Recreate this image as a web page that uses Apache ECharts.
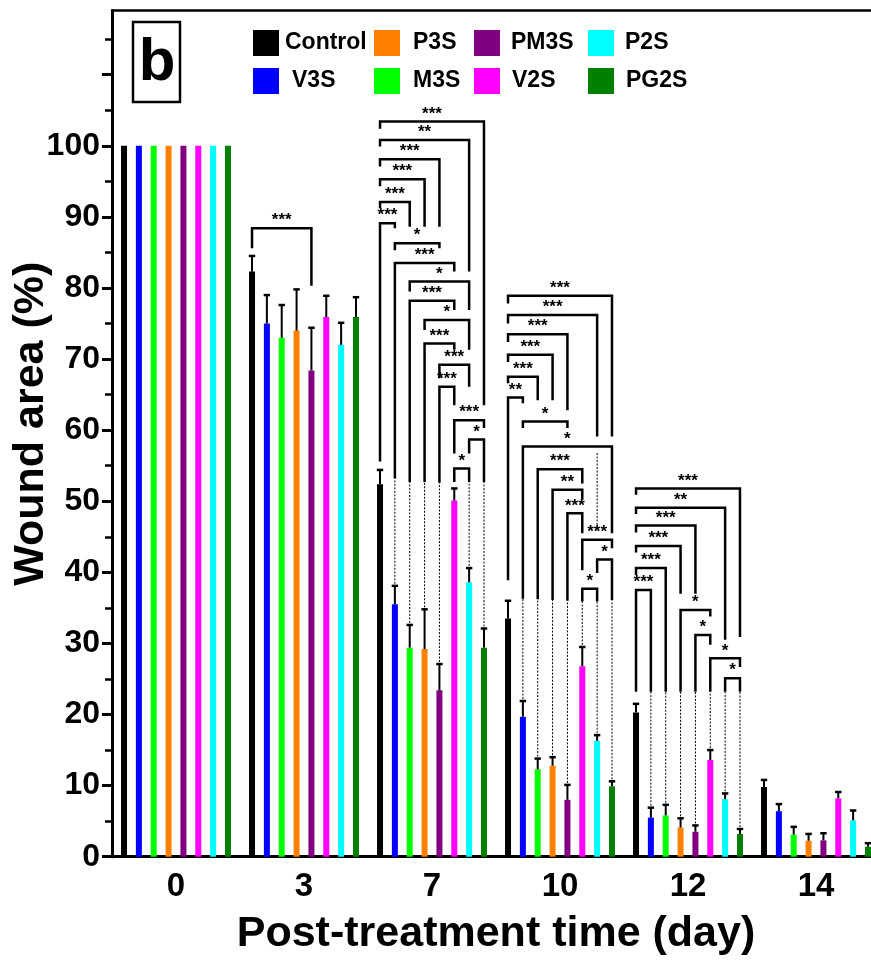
<!DOCTYPE html>
<html><head><meta charset="utf-8">
<script src="https://cdn.jsdelivr.net/npm/echarts@6/dist/echarts.min.js"></script>
<style>html,body{margin:0;padding:0;background:#fff}#c{width:871px;height:960px}</style>
</head><body><div id="c"></div>
<script>
// ---------- data ----------
const categories = ['0', '3', '7', '10', '12', '14'];
const seriesNames = ['Control', 'V3S', 'M3S', 'P3S', 'PM3S', 'V2S', 'P2S', 'PG2S'];
const seriesColors = ['#000000', '#0000FF', '#00FF00', '#FF8000', '#800080', '#FF00FF', '#00FFFF', '#008000'];

const controlMean = [100, 82.3, 52.4, 33.5, 20.3, 9.8];
const controlErr  = [0, 2.2, 2.0, 2.5, 1.2, 1.0];
const v3sMean     = [100, 75.0, 35.5, 19.7, 5.5, 6.4];
const v3sErr      = [0, 4.0, 2.6, 2.2, 1.4, 1.0];
const m3sMean     = [100, 73.0, 29.4, 12.3, 5.8, 3.1];
const m3sErr      = [0, 4.6, 3.2, 1.5, 1.5, 1.1];
const p3sMean     = [100, 74.0, 29.2, 12.8, 4.1, 2.25];
const p3sErr      = [0, 5.8, 5.6, 1.2, 1.3, 0.95];
const pm3sMean    = [100, 68.4, 23.4, 8.0, 3.5, 2.3];
const pm3sErr     = [0, 6.0, 3.7, 2.1, 0.9, 1.0];
const v2sMean     = [100, 75.9, 50.1, 26.8, 13.6, 8.2];
const v2sErr      = [0, 3.0, 1.7, 2.7, 1.4, 0.9];
const p2sMean     = [100, 72.0, 38.6, 16.3, 8.1, 5.1];
const p2sErr      = [0, 3.1, 2.0, 0.8, 0.8, 1.4];
const pg2sMean    = [100, 75.9, 29.4, 9.9, 3.2, 1.4];
const pg2sErr     = [0, 2.8, 2.7, 0.7, 0.7, 0.5];

const seriesMeans = [controlMean, v3sMean, m3sMean, p3sMean, pm3sMean, v2sMean, p2sMean, pg2sMean];
const seriesErrs  = [controlErr, v3sErr, m3sErr, p3sErr, pm3sErr, v2sErr, p2sErr, pg2sErr];

// y-axis ticks
const yMajorTicks = [0, 10, 20, 30, 40, 50, 60, 70, 80, 90, 100, 110];
const yMinorTicks = [5, 15, 25, 35, 45, 55, 65, 75, 85, 95, 105, 115];
const yLabelTicks = [0, 10, 20, 30, 40, 50, 60, 70, 80, 90, 100];

// significance brackets: [category index, from series, to series, bar level, left leg end, right leg end, label]
const bracketsDay3 = [
  [1, 0, 4, 88.4, 85.6, 80.3, '***']
];
const bracketsDay7 = [
  [2, 0, 7, 103.4, 102.4, 63.5, '***'],
  [2, 0, 6, 100.8, 99.9, 82.3, '**'],
  [2, 0, 4, 98.1, 97.1, 88.6, '***'],
  [2, 0, 3, 95.3, 94.3, 88.6, '***'],
  [2, 0, 2, 92.1, 91.2, 88.6, '***'],
  [2, 0, 1, 89.1, 55.6, 88.4, '***'],
  [2, 1, 4, 86.3, 85.3, 85.6, '*'],
  [2, 1, 5, 83.5, 53.2, 82.3, '***'],
  [2, 2, 6, 80.9, 79.5, 76.9, '*'],
  [2, 2, 5, 78.2, 52.7, 76.9, '***'],
  [2, 3, 6, 75.5, 74.1, 71.3, '*'],
  [2, 3, 5, 72.2, 52.7, 71.3, '***'],
  [2, 4, 6, 69.2, 67.3, 66.1, '***'],
  [2, 4, 5, 66.1, 52.6, 63.5, '***'],
  [2, 5, 7, 61.4, 56.7, 60.3, '***'],
  [2, 6, 7, 58.7, 56.7, 52.7, '*'],
  [2, 5, 6, 54.6, 52.7, 52.7, '*']
];
const bracketsDay10 = [
  [3, 0, 7, 78.9, 77.8, 59.1, '***'],
  [3, 0, 6, 76.2, 75.0, 59.1, '***'],
  [3, 0, 4, 73.5, 72.4, 62.8, '***'],
  [3, 0, 3, 70.6, 69.6, 64.2, '***'],
  [3, 0, 2, 67.5, 66.6, 64.2, '***'],
  [3, 0, 1, 64.6, 38.9, 63.8, '**'],
  [3, 1, 4, 61.2, 60.3, 60.3, '*'],
  [3, 1, 7, 57.7, 36.3, 45.5, '*'],
  [3, 2, 5, 54.5, 36.2, 52.5, '***'],
  [3, 3, 5, 51.6, 36.1, 50.2, '**'],
  [3, 4, 5, 48.3, 36.0, 45.5, '***'],
  [3, 5, 7, 44.6, 40.3, 43.4, '***'],
  [3, 6, 7, 41.8, 39.9, 36.1, '*'],
  [3, 5, 6, 37.7, 35.9, 35.9, '*']
];
const bracketsDay12 = [
  [4, 0, 7, 51.8, 50.9, 30.9, '***'],
  [4, 0, 6, 49.1, 48.2, 30.5, '**'],
  [4, 0, 4, 46.6, 45.6, 37.0, '***'],
  [4, 0, 3, 43.7, 42.8, 37.0, '***'],
  [4, 0, 2, 40.6, 39.6, 23.2, '***'],
  [4, 0, 1, 37.5, 23.2, 23.2, '***'],
  [4, 3, 5, 34.7, 23.2, 33.8, '*'],
  [4, 4, 5, 31.2, 23.2, 29.8, '*'],
  [4, 5, 7, 27.9, 23.2, 26.7, '*'],
  [4, 6, 7, 25.1, 23.2, 23.2, '*']
];
// groups whose bars are joined to their brackets by dotted guide lines
const dottedGroups = [2, 3, 4];
// extra dotted guide: [category index, series, from, to]
const dottedExtra = [[3, 6, 56.5, 45.9]];

// ---------- layout constants ----------
const BAR_W = 6;
const BAR_GAP = 1.475;
const FONT = '"Liberation Sans", Arial, Helvetica, sans-serif';
function barOffset(k) { return (k - (seriesNames.length - 1) / 2) * BAR_W * (1 + BAR_GAP); }

const brackets = [].concat(bracketsDay3, bracketsDay7, bracketsDay10, bracketsDay12);

// error bar items
const errItems = [];
seriesMeans.forEach((arr, k) => arr.forEach((m, c) => {
  if (seriesErrs[k][c] > 0) errItems.push([c, k, m, seriesErrs[k][c]]);
}));

// dotted guide lines from error-bar top up to lowest solid leg end
const guides = [];
dottedGroups.forEach(c => {
  for (let k = 0; k < seriesNames.length; k++) {
    let low = Infinity;
    brackets.forEach(b => {
      if (b[0] !== c) return;
      if (b[1] === k) low = Math.min(low, b[4]);
      if (b[2] === k) low = Math.min(low, b[5]);
    });
    const top = seriesMeans[k][c] + seriesErrs[k][c];
    if (low !== Infinity && low - top > 4) guides.push([c, k, top, low]);
  }
});
dottedExtra.forEach(d => guides.push(d));

const chart = echarts.init(document.getElementById('c'), null, {renderer: 'canvas'});

const barSeries = seriesNames.map((name, k) => ({
  name: name,
  type: 'bar',
  data: seriesMeans[k],
  barWidth: BAR_W,
  barGap: (BAR_GAP * 100) + '%',
  itemStyle: {color: seriesColors[k]},
  xAxisIndex: 0,
  yAxisIndex: 0,
  z: 2
}));

const errSeries = {
  type: 'custom',
  name: 'err',
  data: errItems,
  encode: {x: 0, y: 2},
  z: 3,
  silent: true,
  renderItem: function (params, api) {
    const c = api.value(0), k = api.value(1), m = api.value(2), e = api.value(3);
    const x = api.coord([c, 0])[0] + barOffset(k);
    const y0 = api.coord([c, m])[1];
    const y1 = api.coord([c, m + e])[1];
    return {
      type: 'group',
      children: [
        {type: 'line', shape: {x1: x, y1: y0, x2: x, y2: y1}, style: {stroke: '#000', lineWidth: 2}},
        {type: 'line', shape: {x1: x - 3.2, y1: y1, x2: x + 3.2, y2: y1}, style: {stroke: '#000', lineWidth: 2.5}}
      ]
    };
  }
};

const guideSeries = {
  type: 'custom',
  name: 'guide',
  data: guides.map(g => [g[0], g[3]]),
  encode: {x: 0, y: 1},
  z: 3,
  silent: true,
  renderItem: function (params, api) {
    const g = guides[params.dataIndex];
    const x = api.coord([g[0], 0])[0] + barOffset(g[1]);
    const ya = api.coord([g[0], g[2]])[1];
    const yb = api.coord([g[0], g[3]])[1];
    return {type: 'line', shape: {x1: x, y1: ya - 2, x2: x, y2: yb},
      style: {stroke: '#000', lineWidth: 1, lineDash: [2, 1.5]}};
  }
};

const bracketSeries = {
  type: 'custom',
  name: 'brackets',
  data: brackets.map(b => [b[0], b[3]]),
  encode: {x: 0, y: 1},
  z: 4,
  silent: true,
  renderItem: function (params, api) {
    const b = brackets[params.dataIndex];
    const cx = api.coord([b[0], 0])[0];
    const x1 = cx + barOffset(b[1]);
    const x2 = cx + barOffset(b[2]);
    const y = api.coord([b[0], b[3]])[1];
    const yl = api.coord([b[0], b[4]])[1];
    const yr = api.coord([b[0], b[5]])[1];
    return {
      type: 'group',
      children: [
        {type: 'polyline', shape: {points: [[x1, yl], [x1, y], [x2, y], [x2, yr]]},
          style: {stroke: '#000', lineWidth: 2.5, fill: null, lineJoin: 'miter'}},
        {type: 'text', style: {text: b[6], x: (x1 + x2) / 2, y: y + 1,
          align: 'center', verticalAlign: 'bottom', textAlign: 'center', textVerticalAlign: 'bottom',
          font: 'bold 17px ' + FONT, fill: '#000'}}
      ]
    };
  }
};

function legendCol(names, left, pads) {
  return {
    data: names.map((n, i) => ({name: n, textStyle: {padding: [0, 0, 0, pads[i]]}})),
    left: left, top: 25, orient: 'vertical',
    icon: 'rect', itemWidth: 26, itemHeight: 26, itemGap: 12,
    selectedMode: false,
    textStyle: {fontSize: 23, fontWeight: 'bold', color: '#000', fontFamily: FONT}
  };
}

const option = {
  animation: false,
  backgroundColor: '#fff',
  grid: {left: 112, top: 10.7, width: 768, bottom: 103.3, containLabel: false, outerBoundsMode: 'none'},
  legend: [
    legendCol(['Control', 'V3S'], 248, [1, 8]),
    legendCol(['P3S', 'M3S'], 369, [8, 8]),
    legendCol(['PM3S', 'V2S'], 469, [6, 7]),
    legendCol(['P2S', 'PG2S'], 583, [6, 7])
  ],
  xAxis: [{
    type: 'category',
    data: categories,
    position: 'bottom',
    axisLine: {onZero: false, lineStyle: {color: '#000', width: 3}},
    axisTick: {alignWithLabel: true, length: 8, lineStyle: {color: '#000', width: 3}},
    axisLabel: {fontSize: 33, fontWeight: 'bold', color: '#000', fontFamily: FONT, margin: 14},
    name: 'Post-treatment time (day)',
    nameLocation: 'middle',
    nameGap: 56,
    nameMoveOverlap: false,
    nameTextStyle: {fontSize: 43, fontWeight: 'bold', color: '#000', fontFamily: FONT}
  }, {
    type: 'category',
    data: categories,
    position: 'top',
    axisLine: {onZero: false, lineStyle: {color: '#000', width: 2.5}},
    axisTick: {show: false},
    axisLabel: {show: false}
  }],
  yAxis: [{
    type: 'value',
    min: 0, max: 119,
    position: 'left',
    axisLine: {show: true, onZero: false, lineStyle: {color: '#000', width: 3}},
    axisTick: {show: true, length: 10, lineStyle: {color: '#000', width: 3}, customValues: yMajorTicks},
    axisLabel: {customValues: yLabelTicks, fontSize: 32, fontWeight: 'bold', color: '#000', fontFamily: FONT, margin: 12,
      formatter: v => (v <= 100 ? String(v) : '')},
    splitLine: {show: false},
    name: 'Wound area (%)',
    nameLocation: 'middle',
    nameRotate: 90,
    nameGap: 59,
    nameMoveOverlap: false,
    nameTextStyle: {fontSize: 43, fontWeight: 'bold', color: '#000', fontFamily: FONT, padding: [0, 0, 0, 20]}
  }, {
    type: 'value',
    min: 0, max: 119,
    position: 'left',
    axisLine: {show: false, onZero: false},
    axisTick: {show: true, length: 7, lineStyle: {color: '#000', width: 2.5}, customValues: yMinorTicks},
    axisLabel: {show: false},
    splitLine: {show: false}
  }],
  graphic: [
    {type: 'rect', x: 133, y: 22, shape: {x: 0, y: 0, width: 47, height: 80},
      style: {fill: '#fff', stroke: '#000', lineWidth: 2.5}, z: 10},
    {type: 'text', x: 157, y: 63, z: 11,
      style: {text: 'b', font: 'bold 60px ' + FONT, fill: '#000',
        align: 'center', verticalAlign: 'middle', textAlign: 'center', textVerticalAlign: 'middle'}}
  ],
  series: barSeries.concat([errSeries, guideSeries, bracketSeries])
};
chart.setOption(option);
</script>
</body></html>
